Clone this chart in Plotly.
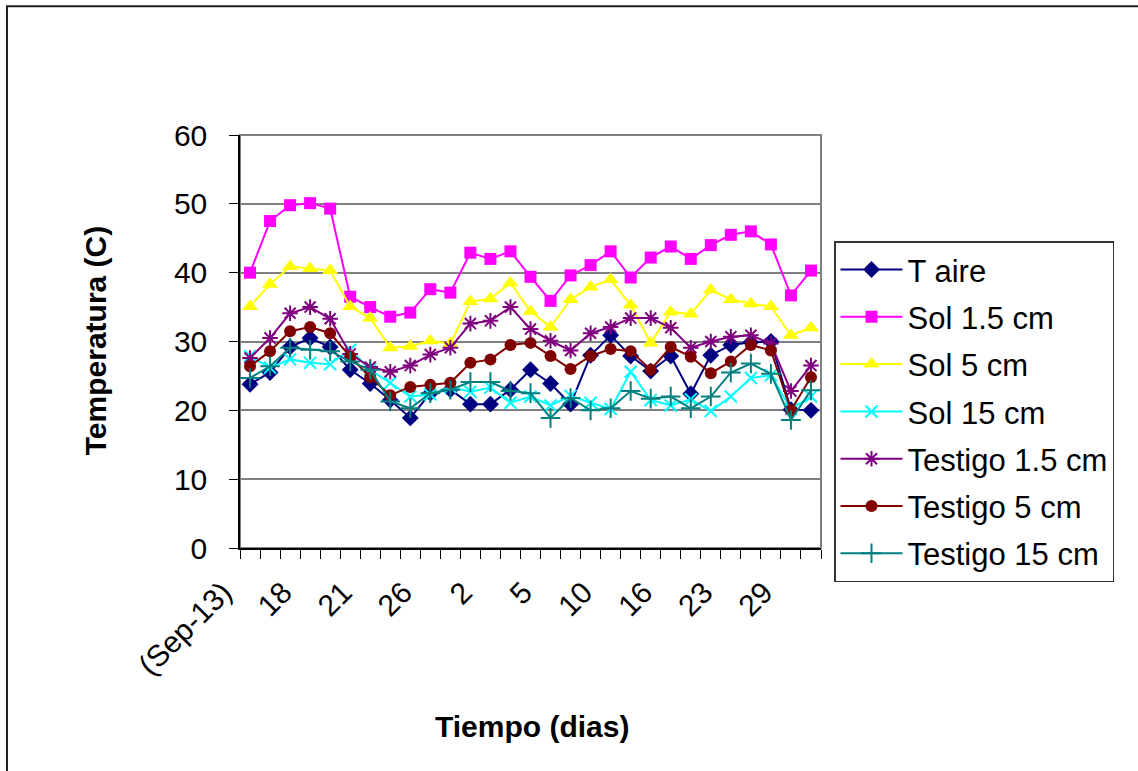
import plotly.graph_objects as go

# ---- data ----
day_index = list(range(29))
tick_positions = [0, 3, 6, 9, 12, 15, 18, 21, 24, 27]
tick_labels = ["(Sep-13)", "18", "21", "26", "2", "5", "10", "16", "23", "29"]

t_aire = [23.8, 25.5, 29.2, 30.5, 29.2, 25.9, 23.9, 21.5, 18.9, 22.5, 23.0, 20.9, 20.9, 23.0,
          25.9, 23.9, 20.9, 28.0, 30.9, 27.9, 25.7, 27.9, 22.4, 28.0, 29.5, 29.9, 30.0, 20.1, 20.0]
sol_15 = [40.0, 47.5, 49.8, 50.1, 49.3, 36.5, 35.0, 33.6, 34.2, 37.6, 37.1, 42.9, 42.0, 43.1,
          39.4, 35.9, 39.6, 41.1, 43.1, 39.3, 42.2, 43.8, 42.0, 44.0, 45.5, 46.0, 44.1, 36.7, 40.3]
sol_5 = [35.1, 38.3, 40.9, 40.6, 40.3, 35.1, 33.4, 29.1, 29.3, 30.1, 29.7, 35.8, 36.2, 38.5,
         34.4, 32.1, 36.1, 37.9, 39.0, 35.3, 29.8, 34.3, 34.0, 37.5, 36.1, 35.5, 35.1, 30.9, 32.0]
sol_150 = [27.9, 26.2, 27.4, 26.9, 26.7, 28.8, 25.9, 24.0, 22.0, 22.3, 23.4, 22.7, 23.3, 21.1,
           22.0, 20.7, 22.1, 21.1, 20.2, 25.6, 21.5, 20.7, 21.6, 19.9, 22.0, 24.7, 25.1, 20.2, 22.0]
testigo_15 = [27.6, 30.5, 34.1, 35.0, 33.3, 28.2, 26.3, 25.6, 26.5, 28.1, 29.1, 32.6, 33.0, 35.0,
              31.8, 30.1, 28.7, 31.2, 32.1, 33.4, 33.4, 32.0, 29.1, 30.0, 30.7, 30.9, 29.7, 22.8, 26.5]
testigo_5 = [26.4, 28.6, 31.5, 32.1, 31.2, 27.8, 24.8, 22.2, 23.4, 23.7, 24.0, 26.9, 27.4, 29.5,
             29.8, 27.9, 26.0, 27.9, 28.9, 28.6, 25.9, 29.2, 27.8, 25.4, 27.1, 29.5, 28.7, 20.0, 24.8]
testigo_150 = [24.7, 26.4, 29.1, 28.8, 28.6, 27.1, 25.9, 21.3, 20.3, 22.5, 23.0, 24.1, 24.1, 22.8,
               22.5, 18.9, 21.8, 20.0, 20.3, 22.8, 21.7, 22.0, 20.3, 22.0, 25.5, 26.8, 25.3, 18.6, 22.9]

series = [
    ("T aire", t_aire, "#000080", "diamond", 13),
    ("Sol 1.5 cm", sol_15, "#FF00FF", "square", 12),
    ("Sol 5 cm", sol_5, "#FFFF00", "triangle-up", 14),
    ("Sol 15 cm", sol_150, "#00FFFF", "x-thin-open", 12),
    ("Testigo 1.5 cm", testigo_15, "#800080", "asterisk-open", 13),
    ("Testigo 5 cm", testigo_5, "#800000", "circle", 12),
    ("Testigo 15 cm", testigo_150, "#008080", "cross-thin-open", 14),
]

FONT = "Liberation Sans, Arial, sans-serif"

fig = go.Figure()
for i, (name, vals, color, sym, size) in enumerate(series):
    open_sym = sym.endswith("-open")
    fig.add_trace(go.Scatter(
        x=day_index, y=vals, name=name, mode="lines+markers",
        line=dict(color=color, width=2),
        marker=dict(symbol=sym, size=size, color=color,
                    line=dict(color=color, width=2 if open_sym else 0)),
        legendgroup=f"g{i}",
    ))

W, H = 1138, 771
L, R, T, B = 240, 821, 134.5, 548
pw, ph = R - L, B - T

fig.update_layout(
    width=W, height=H,
    margin=dict(l=L, r=W - R, t=T, b=H - B),
    paper_bgcolor="white", plot_bgcolor="white",
    font=dict(family=FONT, size=30, color="black"),
    showlegend=True,
    legend=dict(
        x=(834 - L) / pw, y=(B - 241) / ph, xanchor="left", yanchor="top",
        bordercolor="#333333", borderwidth=1.5, bgcolor="white",
        font=dict(family=FONT, size=31, color="black"),
        tracegroupgap=4,
        itemwidth=62,
    ),
    xaxis=dict(
        range=[-0.5, 28.5], tickmode="array", tickvals=tick_positions, ticktext=tick_labels,
        tickangle=-45, ticks="", showgrid=False, zeroline=False,
        showline=True, linecolor="black", linewidth=1.5,
        ticklabelstandoff=13, ticklabelshift=-27,
        tickfont=dict(family=FONT, size=30, color="black"),
        minor=dict(tickmode="array", tickvals=[k - 0.5 for k in range(30)],
                   ticks="outside", ticklen=9, tickwidth=1.2, tickcolor="black", showgrid=False),
    ),
    yaxis=dict(
        range=[0, 60], dtick=10, tick0=0, ticks="outside", ticklen=9, tickwidth=1.2,
        tickcolor="black", showline=True, linecolor="black", linewidth=1.5,
        showgrid=True, gridcolor="#808080", gridwidth=2, zeroline=False,
        ticklabelstandoff=16,
        tickfont=dict(family=FONT, size=30, color="black"),
    ),
    shapes=[
        dict(type="rect", xref="paper", yref="paper", x0=0, x1=1, y0=0, y1=1,
             line=dict(color="#808080", width=2), layer="below"),
        dict(type="rect", xref="paper", yref="paper",
             x0=(7 - L) / pw, x1=(W + 20 - L) / pw, y0=(B - (H + 20)) / ph, y1=(B - 5.5) / ph,
             line=dict(color="#222222", width=2)),
    ],
    annotations=[
        dict(text="<b>Temperatura (C)</b>", xref="paper", yref="paper",
             x=(95 - L) / pw, y=(B - 341) / ph, textangle=-90, showarrow=False,
             xanchor="center", yanchor="middle", font=dict(family=FONT, size=30, color="black")),
        dict(text="<b>Tiempo (dias)</b>", xref="paper", yref="paper",
             x=(532 - L) / pw, y=(B - 727) / ph, showarrow=False,
             xanchor="center", yanchor="middle", font=dict(family=FONT, size=30, color="black")),
    ],
)

fig.write_html("out.html")
